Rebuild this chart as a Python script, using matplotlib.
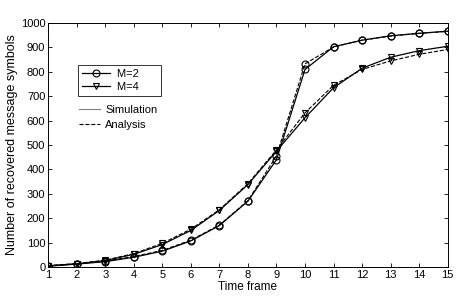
import numpy as np
import matplotlib.pyplot as plt
from matplotlib.lines import Line2D

plt.rcParams['font.family'] = ['Liberation Sans', 'DejaVu Sans']

# Time frames
frames = np.arange(1, 16)

# M=2 curves
m2_sim = [3, 12, 22, 40, 65, 107, 170, 270, 440, 810, 903, 930, 948, 958, 967]
m2_ana = [4, 13, 24, 43, 68, 110, 172, 272, 455, 833, 902, 930, 947, 958, 966]

# M=4 curves
m4_sim = [5, 13, 26, 52, 92, 150, 232, 338, 475, 612, 735, 815, 860, 887, 905]
m4_ana = [6, 14, 28, 55, 97, 155, 235, 342, 480, 632, 745, 810, 845, 872, 892]

fig = plt.figure(figsize=(4.63, 3.0), dpi=100)
ax = fig.add_axes([0.104, 0.11, 0.863, 0.813])

mk = dict(markersize=5, markerfacecolor='none', markeredgecolor='black', markeredgewidth=0.8)
ax.plot(frames, m2_sim, '-', color='black', lw=0.9, marker='o', **mk)
ax.plot(frames, m2_ana, '--', color='black', lw=0.8, marker='o', **mk)
ax.plot(frames, m4_sim, '-', color='black', lw=0.9, marker='v', **mk)
ax.plot(frames, m4_ana, '--', color='black', lw=0.8, marker='v', **mk)

ax.set_xlim(1, 15)
ax.set_ylim(0, 1000)
ax.set_xticks(frames)
ax.set_yticks(np.arange(0, 1001, 100))
ax.tick_params(direction='in', top=True, right=True, labelsize=8, length=3, width=0.6, pad=2)
for s in ax.spines.values():
    s.set_linewidth(0.7)
ax.set_xlabel('Time frame', fontsize=8.5, labelpad=1)
ax.set_ylabel('Number of recovered message symbols', fontsize=9, labelpad=2)

# Marker legend (boxed)
h1 = [Line2D([], [], color='black', lw=0.9, marker='o', **mk),
      Line2D([], [], color='black', lw=0.9, marker='v', **mk)]
leg1 = ax.legend(h1, ['M=2      ', 'M=4      '], loc='upper left', bbox_to_anchor=(0.06, 0.85),
                 fontsize=8, frameon=True, fancybox=False, edgecolor='black',
                 handlelength=2.6, borderpad=0.35, labelspacing=0.25, handletextpad=0.55)
leg1.get_frame().set_linewidth(0.7)
ax.add_artist(leg1)

# Line style legend (no box)
h2 = [Line2D([], [], color='gray', lw=0.8, ls='-'),
      Line2D([], [], color='black', lw=0.8, ls='--')]
ax.legend(h2, ['Simulation', 'Analysis'], loc='upper left', bbox_to_anchor=(0.055, 0.70),
          fontsize=8, frameon=False, handlelength=1.9, borderpad=0.3,
          labelspacing=0.45, handletextpad=0.45)

fig.savefig('out.png', dpi=100)
